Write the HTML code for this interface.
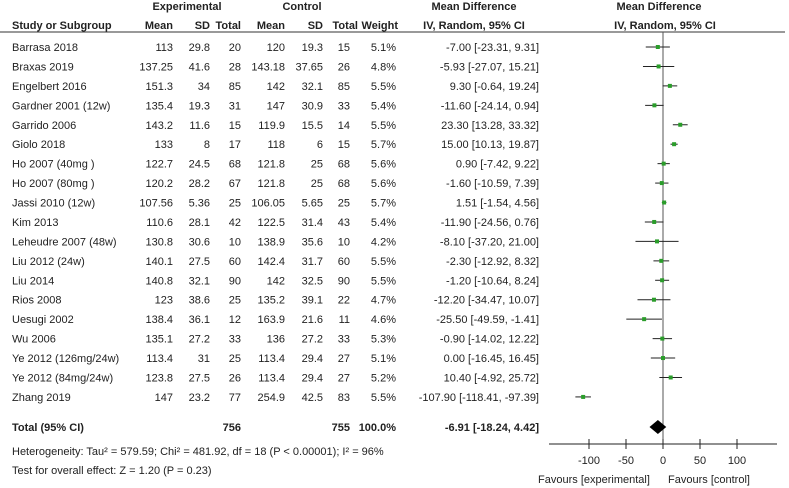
<!DOCTYPE html>
<html><head><meta charset="utf-8"><style>
body{margin:0;background:#fff}
svg{display:block;font-family:"Liberation Sans",Arial,sans-serif;font-size:11px;fill:#222}
.b{font-weight:bold}
</style></head><body>
<svg id="c" width="789" height="488" viewBox="0 0 789 488">
<g id="g"></g>
</svg>
<script>
const studies=["Barrasa 2018","Braxas  2019","Engelbert 2016","Gardner 2001 (12w)","Garrido 2006","Giolo 2018","Ho 2007 (40mg )","Ho 2007 (80mg )","Jassi 2010 (12w)","Kim 2013","Leheudre 2007 (48w)","Liu 2012 (24w)","Liu 2014","Rios 2008","Uesugi 2002","Wu 2006","Ye 2012 (126mg/24w)","Ye 2012 (84mg/24w)","Zhang  2019"];
const expMean=["113","137.25","151.3","135.4","143.2","133","122.7","120.2","107.56","110.6","130.8","140.1","140.8","123","138.4","135.1","113.4","123.8","147"];
const expSD=["29.8","41.6","34","19.3","11.6","8","24.5","28.2","5.36","28.1","30.6","27.5","32.1","38.6","36.1","27.2","31","27.5","23.2"];
const expN=["20","28","85","31","15","17","68","67","25","42","10","60","90","25","12","33","25","26","77"];
const ctlMean=["120","143.18","142","147","119.9","118","121.8","121.8","106.05","122.5","138.9","142.4","142","135.2","163.9","136","113.4","113.4","254.9"];
const ctlSD=["19.3","37.65","32.1","30.9","15.5","6","25","25","5.65","31.4","35.6","31.7","32.5","39.1","21.6","27.2","29.4","29.4","42.5"];
const ctlN=["15","26","85","33","14","15","68","68","25","43","10","60","90","22","11","33","27","27","83"];
const weights=["5.1%","4.8%","5.5%","5.4%","5.5%","5.7%","5.6%","5.6%","5.7%","5.4%","4.2%","5.5%","5.5%","4.7%","4.6%","5.3%","5.1%","5.2%","5.5%"];
const md=[-7.00,-5.93,9.30,-11.60,23.30,15.00,0.90,-1.60,1.51,-11.90,-8.10,-2.30,-1.20,-12.20,-25.50,-0.90,0.00,10.40,-107.90];
const lo=[-23.31,-27.07,-0.64,-24.14,13.28,10.13,-7.42,-10.59,-1.54,-24.56,-37.20,-12.92,-10.64,-34.47,-49.59,-14.02,-16.45,-4.92,-118.41];
const hi=[9.31,15.21,19.24,0.94,33.32,19.87,9.22,7.39,4.56,0.76,21.00,8.32,8.24,10.07,-1.41,12.22,16.45,25.72,-97.39];
const totalMD=-6.91, totalLo=-18.24, totalHi=4.42;
const ticks=[-100,-50,0,50,100];

const NS="http://www.w3.org/2000/svg", g=document.getElementById('g');
const xs=v=>663+v*0.74;
const rowY=i=>47+i*19.44;
function el(tag,attrs,txt){const e=document.createElementNS(NS,tag);for(const k in attrs)e.setAttribute(k,attrs[k]);if(txt!==undefined)e.textContent=txt;g.appendChild(e);return e;}
function fmt(v){return v.toFixed(2);}
function T(x,y,s,anchor,cls){return el('text',{x:x,y:y,'text-anchor':anchor||'start','class':cls||''},s);}

let t;
t=T(187,10,"Experimental","middle","b");
t=T(302,10,"Control","middle","b");
t=T(474,10,"Mean Difference","middle","b");
t=T(659,10,"Mean Difference","middle","b");
const hdr=[[12,"Study or Subgroup","start"],[173,"Mean","end"],[210,"SD","end"],[241,"Total","end"],[285,"Mean","end"],[323,"SD","end"],[358,"Total","end"],[398,"Weight","end"],[474,"IV, Random, 95% CI","middle"],[665,"IV, Random, 95% CI","middle"]];
hdr.forEach(h=>{const e=T(h[0],29,h[1],h[2],"b");});
let ln=el('line',{x1:0,y1:32,x2:785,y2:32,stroke:'#333','stroke-width':1});

ln=el('line',{x1:xs(0),y1:32,x2:xs(0),y2:444,stroke:'#555','stroke-width':1});


studies.forEach((s,i)=>{
  const y=rowY(i)+4;
  const cells=[[12,s,"start"],[173,expMean[i],"end"],[210,expSD[i],"end"],[241,expN[i],"end"],[285,ctlMean[i],"end"],[323,ctlSD[i],"end"],[350,ctlN[i],"end"],[396,weights[i],"end"],[539,fmt(md[i])+" ["+fmt(lo[i])+", "+fmt(hi[i])+"]","end"]];
  cells.forEach(c=>{const e=T(c[0],y,c[1],c[2]);});
  const l=el('line',{x1:xs(lo[i]),y1:rowY(i),x2:xs(hi[i]),y2:rowY(i),stroke:'#222','stroke-width':1});
  
  const r=el('rect',{x:xs(md[i])-2,y:rowY(i)-2,width:4,height:4,fill:'#2a9d2a'});
  
});

const ty=427;
[[12,"Total (95% CI)","start"],[241,"756","end"],[350,"755","end"],[396,"100.0%","end"],[539,fmt(totalMD)+" ["+fmt(totalLo)+", "+fmt(totalHi)+"]","end"]].forEach(c=>{const e=T(c[0],ty+4,c[1],c[2],"b");});
const d=el('polygon',{points:`${xs(totalLo)},${ty} ${xs(totalMD)},${ty-7} ${xs(totalHi)},${ty} ${xs(totalMD)},${ty+7}`,fill:'#000'});


t=T(12,455,"Heterogeneity: Tau² = 579.59; Chi² = 481.92, df = 18 (P < 0.00001); I² = 96%");

t=T(12,474,"Test for overall effect: Z = 1.20 (P = 0.23)");


ln=el('line',{x1:549,y1:444,x2:777,y2:444,stroke:'#222','stroke-width':1});

ticks.forEach(v=>{
  const k=el('line',{x1:xs(v),y1:439,x2:xs(v),y2:449,stroke:'#222','stroke-width':1});
  
  const lb=T(xs(v),464,String(v),"middle");
  
});
t=T(594,483,"Favours [experimental]","middle");

t=T(709,483,"Favours [control]","middle");

</script>
</body></html>
